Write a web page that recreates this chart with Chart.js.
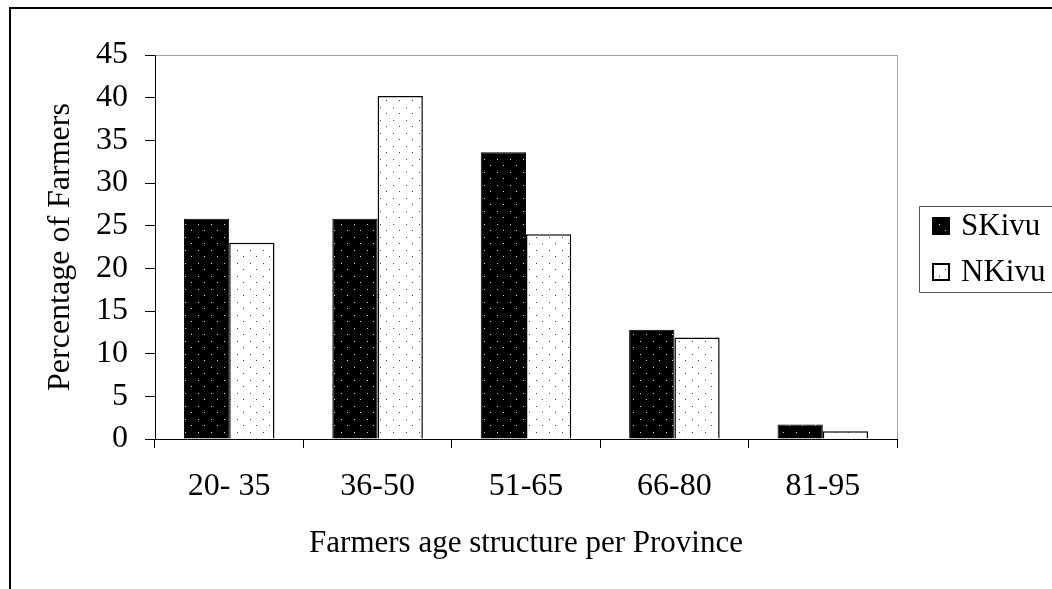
<!DOCTYPE html>
<html>
<head>
<meta charset="utf-8">
<script src="https://cdn.jsdelivr.net/npm/chart.js@4/dist/chart.umd.min.js"></script>
<style>
  html, body { margin: 0; padding: 0; background: #fff; }
  #wrap { width: 1052px; height: 589px; position: relative; }
</style>
</head>
<body>
<div id="wrap"><canvas id="chart" width="1052" height="589"></canvas></div>
<script>
// Age groups and share of farmers (%) per province
const categories = ['20- 35', '36-50', '51-65', '66-80', '81-95'];
const skivuValues = [25.8, 25.8, 33.6, 12.8, 1.7];
const nkivuValues = [23.0, 40.2, 24.0, 11.9, 0.9];
const seriesNames = ['SKivu', 'NKivu'];
const yMin = 0, yMax = 45, yStep = 5;

const FONT = '"Liberation Serif", "Times New Roman", serif';

// Dotted fill patterns
function dotPattern(bg, dot) {
  const c = document.createElement('canvas');
  c.width = 13; c.height = 13;
  const g = c.getContext('2d');
  g.fillStyle = bg; g.fillRect(0, 0, 13, 13);
  g.fillStyle = dot;
  g.fillRect(3, 3, 1, 1);
  g.fillRect(9, 9, 1, 1);
  return document.getElementById('chart').getContext('2d').createPattern(c, 'repeat');
}
const skFill = dotPattern('#000000', '#d8d8d8');
const nkFill = dotPattern('#ffffff', '#404040');

// Frame, plot border and legend box
const decorations = {
  id: 'decorations',
  beforeDraw(chart) {
    const ctx = chart.ctx;
    ctx.save();
    ctx.fillStyle = '#fff';
    ctx.fillRect(0, 0, chart.width, chart.height);
    ctx.restore();
  },
  afterDraw(chart) {
    const ctx = chart.ctx;
    const a = chart.chartArea;
    ctx.save();
    // outer frame
    ctx.strokeStyle = '#000';
    ctx.lineWidth = 2;
    ctx.beginPath();
    ctx.moveTo(10, chart.height + 2);
    ctx.lineTo(10, 8);
    ctx.lineTo(chart.width + 2, 8);
    ctx.stroke();
    // plot area top/right edge
    ctx.strokeStyle = '#a0a0a0';
    ctx.lineWidth = 1;
    ctx.beginPath();
    ctx.moveTo(Math.round(a.left) + 0.5, Math.round(a.top) + 0.5);
    ctx.lineTo(Math.round(a.right) + 0.5, Math.round(a.top) + 0.5);
    ctx.lineTo(Math.round(a.right) + 0.5, Math.round(a.bottom));
    ctx.stroke();
    // legend
    const lx = 919, ly = 206, lb = 292;
    ctx.strokeStyle = '#555';
    ctx.lineWidth = 1;
    ctx.beginPath();
    ctx.moveTo(chart.width + 2, ly + 0.5);
    ctx.lineTo(lx + 0.5, ly + 0.5);
    ctx.lineTo(lx + 0.5, lb + 0.5);
    ctx.lineTo(chart.width + 2, lb + 0.5);
    ctx.stroke();
    const rows = [226, 272];
    chart.data.datasets.forEach((ds, i) => {
      const cy = rows[i];
      ctx.fillStyle = ds.backgroundColor;
      ctx.fillRect(932, cy - 9, 18, 18);
      ctx.strokeStyle = '#000';
      ctx.lineWidth = 2;
      ctx.strokeRect(933, cy - 8, 16, 16);
      ctx.fillStyle = '#000';
      ctx.font = '31px ' + FONT;
      ctx.textBaseline = 'middle';
      ctx.textAlign = 'left';
      ctx.fillText(ds.label, 961, cy + 1);
    });
    ctx.restore();
  }
};

new Chart(document.getElementById('chart'), {
  type: 'bar',
  data: {
    labels: categories,
    datasets: [
      { label: seriesNames[0], data: skivuValues, backgroundColor: skFill,
        borderColor: '#000', borderWidth: 1, borderSkipped: 'bottom' },
      { label: seriesNames[1], data: nkivuValues, backgroundColor: nkFill,
        borderColor: '#000', borderWidth: 1.5, borderSkipped: 'bottom' }
    ]
  },
  options: {
    responsive: false,
    animation: false,
    events: [],
    layout: { padding: { left: 0, top: 55, right: 155, bottom: 0 } },
    datasets: { bar: { barPercentage: 1.0, categoryPercentage: 0.61 } },
    plugins: { legend: { display: false }, tooltip: { enabled: false } },
    scales: {
      x: {
        grid: { display: true, offset: true, drawOnChartArea: false, drawTicks: true,
                tickLength: 9, color: '#000', lineWidth: 1 },
        border: { display: true, color: '#000', width: 1 },
        ticks: { color: '#000', font: { family: FONT, size: 32 }, padding: 19,
                 maxRotation: 0, autoSkip: false },
        title: { display: true, text: 'Farmers age structure per Province', color: '#000',
                 font: { family: FONT, size: 31 }, padding: { top: 0, bottom: 27 } },
        afterFit(scale) { scale.height = 150; }
      },
      y: {
        min: yMin, max: yMax,
        grid: { display: true, drawOnChartArea: false, drawTicks: true,
                tickLength: 10, color: '#000', lineWidth: 1 },
        border: { display: true, color: '#000', width: 1 },
        ticks: { stepSize: yStep, color: '#000', font: { family: FONT, size: 32 }, padding: 17 },
        title: { display: true, text: 'Percentage of Farmers', color: '#000',
                 font: { family: FONT, size: 32 }, padding: { top: 41, bottom: 0 } },
        afterFit(scale) { scale.width = 155; }
      }
    }
  },
  plugins: [decorations]
});
</script>
</body>
</html>
